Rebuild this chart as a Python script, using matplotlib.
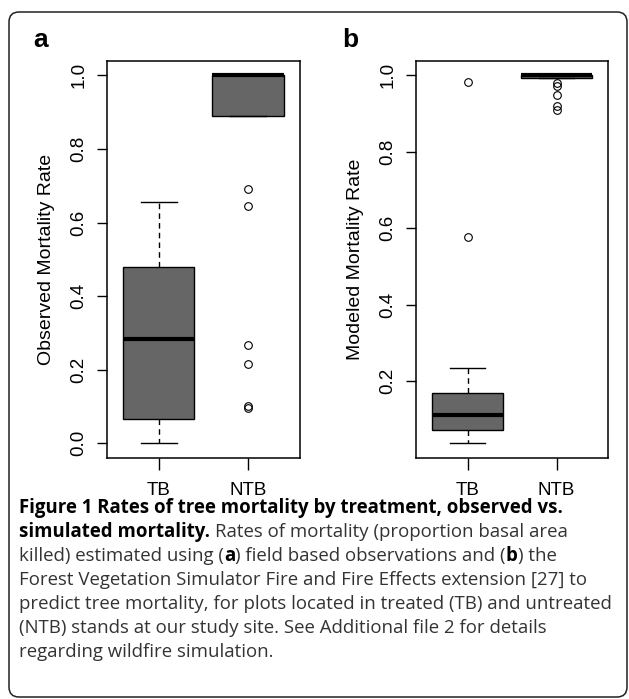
import matplotlib
matplotlib.use("Agg")
import matplotlib.pyplot as plt
from matplotlib.patches import FancyBboxPatch

groups = ["TB", "NTB"]

# panel a: observed mortality (box stats)
obs_q1 = [0.066, 0.890]
obs_med = [0.283, 1.000]
obs_q3 = [0.480, 1.000]
obs_lo = [0.000, 0.890]
obs_hi = [0.656, 1.000]
obs_fliers = [[], [0.690, 0.644, 0.268, 0.216, 0.102, 0.097]]

# panel b: modeled mortality
mod_q1 = [0.072, 0.994]
mod_med = [0.111, 1.000]
mod_q3 = [0.168, 1.000]
mod_lo = [0.037, 0.994]
mod_hi = [0.233, 1.000]
mod_fliers = [[0.984, 0.577], [0.980, 0.972, 0.949, 0.919, 0.910]]

yticks_a = [0.0, 0.2, 0.4, 0.6, 0.8, 1.0]
yticks_b = [0.2, 0.4, 0.6, 0.8, 1.0]

plot_font = ["Liberation Sans", "DejaVu Sans"]
cap_font = ["Open Sans", "DejaVu Sans"]

fig = plt.figure(figsize=(6.29, 6.99), dpi=100)


def stats(q1, med, q3, lo, hi, fl):
    return [dict(q1=q1[i], med=med[i], q3=q3[i], whislo=lo[i], whishi=hi[i],
                 fliers=fl[i], label=groups[i]) for i in range(len(groups))]


def panel(rect, st, yticks, ylabel, letter, letter_x):
    ax = fig.add_axes(rect)
    ax.bxp(st, positions=[1, 2], widths=0.8, patch_artist=True,
           boxprops=dict(facecolor="#666666", edgecolor="black", linewidth=1.0),
           medianprops=dict(color="black", linewidth=3.0, solid_capstyle="butt"),
           whiskerprops=dict(color="black", linewidth=1.0, linestyle=(0, (4, 3))),
           capprops=dict(color="black", linewidth=1.0),
           flierprops=dict(marker="o", markersize=5.5, markerfacecolor="none",
                           markeredgecolor="black", markeredgewidth=0.8))
    vals = [v for s in st for v in [s["whislo"], s["whishi"]] + list(s["fliers"])]
    lo, hi = min(vals), max(vals)
    pad = 0.04 * (hi - lo)
    ax.set_ylim(lo - pad, hi + pad)
    ax.set_xlim(0.42, 2.58)
    ax.set_yticks(yticks)
    ax.set_yticklabels(["%.1f" % v for v in yticks], rotation=90, va="center",
                       family=plot_font, fontsize=13.5)
    ax.set_xticks([1, 2])
    ax.set_xticklabels(groups, family=plot_font, fontsize=13.5)
    ax.tick_params(axis="y", length=7.5, width=1.0, pad=6.5)
    ax.tick_params(axis="x", length=8.5, width=1.0, pad=8.5)
    for sp in ax.spines.values():
        sp.set_linewidth(1.1)
    ax.set_ylabel(ylabel, family=plot_font, fontsize=14, labelpad=11)
    fig.text(letter_x, 1 - 40 / 699, letter, family=["Liberation Sans"],
             fontweight="bold", fontsize=19, ha="center", va="center")
    return ax


panel([106.7 / 629, 1 - 458 / 699, 193.3 / 629, 397.3 / 699],
      stats(obs_q1, obs_med, obs_q3, obs_lo, obs_hi, obs_fliers),
      yticks_a, "Observed Mortality Rate", "a", 41 / 629)
panel([416 / 629, 1 - 458 / 699, 192.3 / 629, 397.3 / 699],
      stats(mod_q1, mod_med, mod_q3, mod_lo, mod_hi, mod_fliers),
      yticks_b, "Modeled Mortality Rate", "b", 350 / 629)

# rounded frame around the figure
frame = FancyBboxPatch((0.09, 0.02), 6.18, 6.85, boxstyle="round,pad=0,rounding_size=0.1",
                       transform=fig.dpi_scale_trans, facecolor="none",
                       edgecolor="#222222", linewidth=1.1)
fig.patches.append(frame)

# caption with mixed bold / regular runs
caption = [
    [("Figure 1 Rates of tree mortality by treatment, observed vs.", True)],
    [("simulated mortality.", True), (" Rates of mortality (proportion basal area", False)],
    [("killed) estimated using (", False), ("a", True), (") field based observations and (", False),
     ("b", True), (") the", False)],
    [("Forest Vegetation Simulator Fire and Fire Effects extension [27] to", False)],
    [("predict tree mortality, for plots located in treated (TB) and untreated", False)],
    [("(NTB) stands at our study site. See Additional file 2 for details", False)],
    [("regarding wildfire simulation.", False)],
]
cap_size = 13.4
renderer = fig.canvas.get_renderer()


def width_px(s, bold):
    t = fig.text(0, 0, s, family=cap_font, fontsize=cap_size,
                 fontweight="bold" if bold else "normal")
    w = t.get_window_extent(renderer).width
    t.remove()
    return w


for i, line in enumerate(caption):
    x = 19.0
    y = 1 - (513 + 24 * i) / 699
    for txt, bold in line:
        if txt.startswith(" "):
            x += width_px("x x", bold) - width_px("xx", bold)
            txt = txt.lstrip()
        t = fig.text(x / 629, y, txt, family=cap_font, fontsize=cap_size,
                     fontweight="bold" if bold else "normal",
                     color="black" if bold else "#333333", va="baseline", ha="left")
        x += t.get_window_extent(renderer).width

fig.savefig("out.png", dpi=100)
